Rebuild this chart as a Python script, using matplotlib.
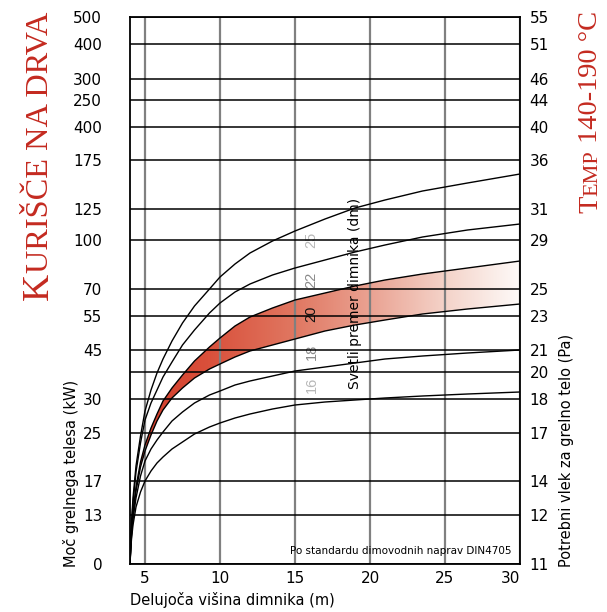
import numpy as np
import matplotlib
matplotlib.use("Agg")
import matplotlib.pyplot as plt
from matplotlib.colors import LinearSegmentedColormap

# chart scale: left / right tick labels sit on shared horizontal levels (0..547)
left_labels = ['500', '400', '300', '250', '400', '175', '125', '100', '70', '55', '45', '30', '25', '17', '13', '0']
left_levels = [547, 520, 485, 464, 437, 404, 355, 324, 275, 248, 214, 165, 131, 83, 49, 0]
right_labels = ['55', '51', '46', '44', '40', '36', '31', '29', '25', '23', '21', '20', '18', '17', '14', '12', '11']
right_levels = [547, 520, 485, 464, 437, 404, 355, 324, 275, 248, 214, 192, 165, 131, 83, 49, 0]
x_ticks = [5, 10, 15, 20, 25, 30]

# curves (x = chimney height m, y = chart level)
height_m = [4, 4.05, 4.1, 4.2, 4.4, 4.7, 5, 5.4, 5.8, 6.2, 6.8, 7.5, 8.3, 9.3,
            10, 11, 12, 13.5, 15, 17, 19, 21, 23.5, 26.5, 30]
d25 = [0, 24, 42, 66, 98, 128, 153, 174, 191, 205, 223, 241, 258, 275,
       287, 300, 311, 323, 333, 345, 356, 364, 373, 381, 390]
d22 = [0, 22, 38, 61, 92, 121, 144, 161, 174, 187, 202, 219, 234, 251,
       261, 272, 280, 289, 296, 304, 312, 319, 327, 334, 340]
d20_hi = [0, 19, 33, 52, 77, 102, 119, 136, 150, 163, 176, 189, 203, 217,
          226, 238, 247, 256, 264, 271, 278, 284, 290, 296, 303]
d20_lo = [0, 18, 31, 49, 73, 97, 113, 129, 143, 154, 166, 176, 186, 195,
          200, 207, 213, 219, 225, 233, 239, 244, 250, 255, 260]
d18 = [0, 16, 28, 45, 66, 88, 103, 115, 124, 132, 143, 152, 161, 169,
       173, 179, 183, 188, 193, 197, 201, 205, 208, 211, 214]
d16 = [0, 14, 25, 39, 57, 72, 83, 93, 101, 107, 115, 122, 130, 137,
       141, 146, 150, 155, 159, 162, 164, 166, 168, 170, 172]

curve_labels = ['25', '22', '20', '18', '16']
curve_label_y = [324, 284, 250, 212, 179]
curve_label_colors = ['#b8b8b8', '#8a8a8a', '#111111', '#8a8a8a', '#b8b8b8']

W, H = 607, 612
fig = plt.figure(figsize=(W / 100, H / 100), dpi=100)
ax = fig.add_axes([130 / W, 48 / H, 390 / W, 547 / H])
ax.set_xlim(4, 30)
ax.set_ylim(0, 547)

# gradient band
cmap = LinearSegmentedColormap.from_list('band', [
    (0, '#d23a28'), (0.2, '#d9503b'), (0.42, '#e07761'),
    (0.62, '#eaa393'), (0.81, '#f4d3c9'), (1, '#fefaf8')])
grad = np.linspace(0, 1, 256).reshape(1, -1)
img = ax.imshow(grad, extent=[4, 30, 0, 547], aspect='auto', cmap=cmap,
                origin='lower', zorder=0.5)
poly = ax.fill_between(height_m, d20_lo, d20_hi, facecolor='none', edgecolor='none')
img.set_clip_path(poly.get_paths()[0], transform=ax.transData)

for ys in [d25, d22, d20_hi, d20_lo, d18, d16]:
    ax.plot(height_m, ys, color='black', lw=1.0, zorder=3)

ax.set_xticks(x_ticks)
ax.set_yticks(left_levels, left_labels)
ax.tick_params(axis='both', length=0, labelsize=11)
ax.tick_params(axis='y', pad=20)
ax.tick_params(axis='x', pad=5)
ax.get_xticklabels()[-1].set_horizontalalignment('right')
ax.grid(axis='x', color='#808080', lw=1.6)
for s in ax.spines.values():
    s.set_color('black')
    s.set_linewidth(1.3)

ax2 = ax.twinx()
ax2.set_ylim(0, 547)
ax2.set_yticks(right_levels, right_labels)
ax2.tick_params(axis='y', length=0, labelsize=11, pad=7)
ax2.grid(axis='y', color='black', lw=1.1)
for s in ax2.spines.values():
    s.set_visible(False)

for lab, yy, col in zip(curve_labels, curve_label_y, curve_label_colors):
    ax.text(16.1, yy, lab, rotation=90, ha='center', va='center', color=col,
            fontsize=10.5, family='Liberation Sans', zorder=5)

ax.text(19.0, 271, 'Svetli premer dimnika (dm)', rotation=90, ha='center',
        va='center', fontsize=10, zorder=5)
ax.text(29.4, 13, 'Po standardu dimovodnih naprav DIN4705', ha='right',
        va='center', fontsize=7.5, zorder=5)

fig.text(130 / W, (H - 600) / H, 'Delujoča višina dimnika (m)', ha='left',
         va='center', fontsize=10.5)
fig.text(71 / W, (H - 567) / H, 'Moč grelnega telesa (kW)', rotation=90,
         ha='center', va='bottom', fontsize=10.5)
fig.text(566 / W, (H - 567) / H, 'Potrebni vlek za grelno telo (Pa)', rotation=90,
         ha='center', va='bottom', fontsize=10.5)

# small-caps style titles built from pieces
red = '#c42a20'
renderer = fig.canvas.get_renderer()


def stacked(x_px, y_px, pieces):
    y = H - y_px
    for txt, size in pieces:
        t = fig.text(x_px / W, y / H, txt, rotation=90, rotation_mode='anchor',
                     ha='left', va='baseline', fontsize=size, color=red,
                     family='Liberation Serif')
        bb = t.get_window_extent(renderer)
        y = bb.y1


stacked(48, 300, [('K', 27), ('URIŠČE NA DRVA', 23.3)])
stacked(597, 213, [('T', 20.5), ('EMP', 16), (' 140-190 °C', 20.5)])

fig.savefig('out.png', dpi=100)
